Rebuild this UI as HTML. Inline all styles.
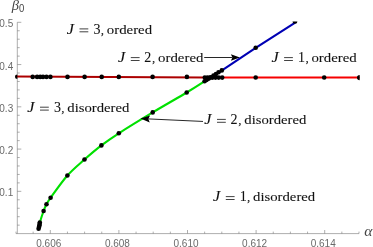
<!DOCTYPE html><html><head><meta charset="utf-8"><title>Phase diagram</title>
<style>html,body{margin:0;padding:0;background:#fff;}svg{display:block;will-change:transform;transform:translateZ(0)}text{font-family:"Liberation Serif",serif}.t{font-family:"Liberation Sans",sans-serif;font-size:10px;fill:#6a6a6a}</style></head><body>
<svg width="373" height="247" viewBox="0 0 373 247">
<rect width="373" height="247" fill="#fff"/>
<g stroke="#777" stroke-width="0.6" fill="none">
<path d="M17.30 22.30V233.60"/>
<path d="M16.00 233.60H359.00"/>
<path d="M16.00 233.60v-2.00M33.15 233.60v-2.00M50.30 233.60v-3.60M67.45 233.60v-2.00M84.60 233.60v-2.00M101.75 233.60v-2.00M118.90 233.60v-3.60M136.05 233.60v-2.00M153.20 233.60v-2.00M170.35 233.60v-2.00M187.50 233.60v-3.60M204.65 233.60v-2.00M221.80 233.60v-2.00M238.95 233.60v-2.00M256.10 233.60v-3.60M273.25 233.60v-2.00M290.40 233.60v-2.00M307.55 233.60v-2.00M324.70 233.60v-3.60M341.85 233.60v-2.00M359.00 233.60v-2.00"/>
<path d="M17.30 225.15h2.40M17.30 216.70h2.40M17.30 208.24h2.40M17.30 199.79h2.40M17.30 191.34h4.00M17.30 182.89h2.40M17.30 174.44h2.40M17.30 165.98h2.40M17.30 157.53h2.40M17.30 149.08h4.00M17.30 140.63h2.40M17.30 132.18h2.40M17.30 123.72h2.40M17.30 115.27h2.40M17.30 106.82h4.00M17.30 98.37h2.40M17.30 89.92h2.40M17.30 81.46h2.40M17.30 73.01h2.40M17.30 64.56h4.00M17.30 56.11h2.40M17.30 47.66h2.40M17.30 39.20h2.40M17.30 30.75h2.40M17.30 22.30h4.00"/>
</g>
<text class="t" x="48.80" y="247.1" text-anchor="middle">0.606</text>
<text class="t" x="117.40" y="247.1" text-anchor="middle">0.608</text>
<text class="t" x="186.00" y="247.1" text-anchor="middle">0.610</text>
<text class="t" x="254.60" y="247.1" text-anchor="middle">0.612</text>
<text class="t" x="323.20" y="247.1" text-anchor="middle">0.614</text>
<text class="t" x="13.2" y="196.29" text-anchor="end">0.1</text>
<text class="t" x="13.2" y="154.03" text-anchor="end">0.2</text>
<text class="t" x="13.2" y="111.77" text-anchor="end">0.3</text>
<text class="t" x="13.2" y="69.51" text-anchor="end">0.4</text>
<text class="t" x="13.2" y="27.25" text-anchor="end">0.5</text>
<text x="11.7" y="9.7" font-size="14.5" font-style="italic" fill="#444">β</text>
<text x="18.9" y="12.4" font-size="10.4" textLength="5.3" lengthAdjust="spacingAndGlyphs" fill="#444" style="font-family:'Liberation Sans',sans-serif">0</text>
<text x="364.3" y="236.4" font-size="15.5" font-style="italic" fill="#444">α</text>
<path d="M15.6 76.60L205 77.40" stroke="#ac0000" stroke-width="2.0" fill="none"/>
<path d="M205 77.60L359.6 77.60" stroke="#f60000" stroke-width="2.0" fill="none"/>
<path d="M38.60 228.70C38.67 228.42 38.87 227.53 39.00 227.00C39.13 226.47 39.30 226.00 39.40 225.50C39.50 225.00 39.53 224.50 39.60 224.00C39.67 223.50 39.13 224.67 39.80 222.50C40.47 220.33 42.48 214.05 43.60 211.00C44.72 207.95 45.33 206.40 46.50 204.20C47.67 202.00 47.12 202.58 50.60 197.80C54.08 193.02 61.75 181.88 67.40 175.50C73.05 169.12 78.83 164.52 84.50 159.50C90.17 154.48 95.68 149.77 101.40 145.40C107.12 141.03 110.25 138.80 118.80 133.30C127.35 127.80 141.38 119.20 152.70 112.40C164.02 105.60 178.02 97.72 186.70 92.50C195.38 87.28 201.78 83.00 204.80 81.10" stroke="#00e000" stroke-width="2.1" fill="none" stroke-linecap="butt"/>
<path d="M204.80 81.10L222.00 70.30L255.70 47.80L295.20 22.60" stroke="#0000b4" stroke-width="2.1" fill="none"/>
<g fill="#000">
<circle cx="32.70" cy="76.90" r="2.30"/>
<circle cx="37.10" cy="76.90" r="2.30"/>
<circle cx="40.20" cy="76.90" r="2.30"/>
<circle cx="43.00" cy="76.90" r="2.30"/>
<circle cx="46.50" cy="76.90" r="2.30"/>
<circle cx="50.40" cy="76.90" r="2.30"/>
<circle cx="67.50" cy="76.90" r="2.30"/>
<circle cx="84.60" cy="76.90" r="2.30"/>
<circle cx="101.70" cy="76.90" r="2.30"/>
<circle cx="118.80" cy="76.90" r="2.30"/>
<circle cx="152.60" cy="76.90" r="2.30"/>
<circle cx="186.90" cy="76.90" r="2.30"/>
<circle cx="255.70" cy="77.50" r="2.30"/>
<circle cx="324.20" cy="77.50" r="2.30"/>
<circle cx="204.80" cy="77.60" r="2.30"/>
<circle cx="207.50" cy="77.60" r="2.30"/>
<circle cx="210.00" cy="77.60" r="2.30"/>
<circle cx="212.50" cy="77.60" r="2.30"/>
<circle cx="215.50" cy="77.60" r="2.30"/>
<circle cx="218.70" cy="77.60" r="2.30"/>
<circle cx="222.20" cy="77.60" r="2.30"/>
<circle cx="38.60" cy="228.70" r="2.30"/>
<circle cx="39.00" cy="227.00" r="2.30"/>
<circle cx="39.40" cy="225.50" r="2.30"/>
<circle cx="39.60" cy="224.00" r="2.30"/>
<circle cx="39.80" cy="222.50" r="2.30"/>
<circle cx="43.60" cy="211.00" r="2.30"/>
<circle cx="46.50" cy="204.20" r="2.30"/>
<circle cx="50.60" cy="197.80" r="2.30"/>
<circle cx="67.40" cy="175.50" r="2.30"/>
<circle cx="84.50" cy="159.50" r="2.30"/>
<circle cx="101.40" cy="145.40" r="2.30"/>
<circle cx="118.80" cy="133.30" r="2.30"/>
<circle cx="152.70" cy="112.40" r="2.30"/>
<circle cx="186.70" cy="92.50" r="2.30"/>
<circle cx="204.60" cy="81.30" r="2.30"/>
<circle cx="206.50" cy="80.00" r="2.30"/>
<circle cx="208.50" cy="78.80" r="2.30"/>
<circle cx="211.00" cy="77.20" r="2.30"/>
<circle cx="213.50" cy="75.60" r="2.30"/>
<circle cx="216.00" cy="74.00" r="2.30"/>
<circle cx="218.50" cy="72.30" r="2.30"/>
<circle cx="221.80" cy="70.40" r="2.30"/>
<circle cx="255.70" cy="47.80" r="2.30"/>
<path d="M17.3 74.50A2.3 2.3 0 0 0 17.3 79.10Z"/>
<path d="M359.7 74.90A2.7 2.7 0 0 0 359.7 80.30Z"/>
<path d="M292.5 21.4A2.45 2.45 0 0 0 297.4 21.4Z"/>
</g>
<path d="M204.20 57.50L232.40 57.50" stroke="#000" stroke-width="0.85" fill="none"/><path d="M239.90 57.50L230.90 60.80L232.40 57.50L230.90 54.20Z" fill="#000"/>
<path d="M203.00 121.45L148.39 118.92" stroke="#000" stroke-width="0.85" fill="none"/><path d="M140.50 118.55L150.05 115.49L148.39 118.92L149.73 122.48Z" fill="#000"/>
<g font-size="13.0" fill="#111" stroke="#111" stroke-width="0.08"><text x="66.80" y="33.60" font-style="italic" font-size="14.4" textLength="7.2" lengthAdjust="spacingAndGlyphs">J</text><path d="M79.50 28.90h8.8M79.50 31.80h8.8" stroke="#111" stroke-width="0.8" fill="none"/><text x="93.50" y="33.60" font-size="14">3</text><text x="100.80" y="33.60">,</text><text x="106.80" y="33.60" textLength="45.3" lengthAdjust="spacingAndGlyphs">ordered</text></g>
<g font-size="13.0" fill="#111" stroke="#111" stroke-width="0.08"><text x="118.10" y="62.30" font-style="italic" font-size="14.4" textLength="7.2" lengthAdjust="spacingAndGlyphs">J</text><path d="M130.80 57.60h8.8M130.80 60.50h8.8" stroke="#111" stroke-width="0.8" fill="none"/><text x="144.30" y="62.30" font-size="14">2</text><text x="152.10" y="62.30">,</text><text x="158.10" y="62.30" textLength="45.3" lengthAdjust="spacingAndGlyphs">ordered</text></g>
<g font-size="13.0" fill="#111" stroke="#111" stroke-width="0.08"><text x="271.40" y="62.30" font-style="italic" font-size="14.4" textLength="7.2" lengthAdjust="spacingAndGlyphs">J</text><path d="M284.10 57.60h8.8M284.10 60.50h8.8" stroke="#111" stroke-width="0.8" fill="none"/><text x="298.10" y="62.30" font-size="14">1</text><text x="305.40" y="62.30">,</text><text x="311.40" y="62.30" textLength="45.3" lengthAdjust="spacingAndGlyphs">ordered</text></g>
<g font-size="13.0" fill="#111" stroke="#111" stroke-width="0.08"><text x="27.30" y="111.90" font-style="italic" font-size="14.4" textLength="7.2" lengthAdjust="spacingAndGlyphs">J</text><path d="M40.00 107.20h8.8M40.00 110.10h8.8" stroke="#111" stroke-width="0.8" fill="none"/><text x="54.00" y="111.90" font-size="14">3</text><text x="61.30" y="111.90">,</text><text x="67.30" y="111.90" textLength="62.1" lengthAdjust="spacingAndGlyphs">disordered</text></g>
<g font-size="13.0" fill="#111" stroke="#111" stroke-width="0.08"><text x="204.30" y="124.10" font-style="italic" font-size="14.4" textLength="7.2" lengthAdjust="spacingAndGlyphs">J</text><path d="M217.00 119.40h8.8M217.00 122.30h8.8" stroke="#111" stroke-width="0.8" fill="none"/><text x="230.50" y="124.10" font-size="14">2</text><text x="238.30" y="124.10">,</text><text x="244.30" y="124.10" textLength="62.1" lengthAdjust="spacingAndGlyphs">disordered</text></g>
<g font-size="13.0" fill="#111" stroke="#111" stroke-width="0.08"><text x="213.10" y="201.30" font-style="italic" font-size="14.4" textLength="7.2" lengthAdjust="spacingAndGlyphs">J</text><path d="M225.80 196.60h8.8M225.80 199.50h8.8" stroke="#111" stroke-width="0.8" fill="none"/><text x="239.80" y="201.30" font-size="14">1</text><text x="247.10" y="201.30">,</text><text x="253.10" y="201.30" textLength="62.1" lengthAdjust="spacingAndGlyphs">disordered</text></g>
</svg></body></html>
